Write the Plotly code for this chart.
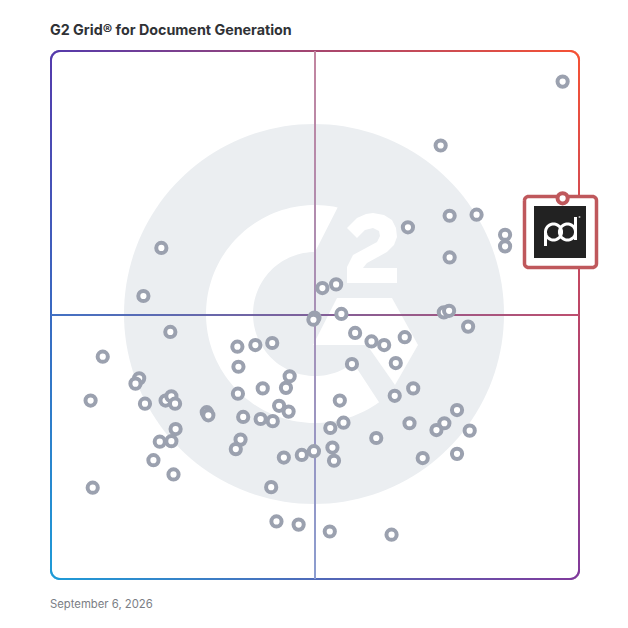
"""G2 Grid for Document Generation, drawn with Plotly."""

import math

import plotly.graph_objects as go

TITLE = "G2 Grid® for Document Generation"
DATE = "September 6, 2026"

# grid scores, 0-100 on both axes
presence = [
    96.8, 73.7, 75.4, 80.5, 67.5, 85.9, 85.9, 75.4, 20.8, 17.4, 51.3, 53.9,
    49.8, 49.6, 54.9, 74.3, 75.3, 78.9, 22.5, 57.5, 60.6, 63.0, 66.9, 35.2,
    38.6, 41.8, 35.4, 56.9, 65.2, 45.1, 44.4, 40.0, 35.3, 16.6, 15.9, 17.7,
    21.6, 22.7, 23.4, 29.4, 29.7, 43.1, 44.9, 36.3, 39.6, 41.9, 54.6, 65.0,
    68.5, 76.8, 74.4, 72.9, 79.2, 67.8, 55.3, 52.8, 61.5, 23.5, 22.7, 20.5,
    35.8, 34.9, 19.3, 23.1, 44.0, 47.4, 49.7, 53.2, 53.5, 70.3, 76.8, 41.6,
    7.8, 7.4, 9.7, 42.6, 46.8, 52.7, 64.4,
]
satisfaction = [
    94.3, 82.2, 68.9, 69.1, 66.7, 65.3, 63.1, 61.0, 62.8, 53.7, 55.2, 55.9,
    49.6, 49.2, 50.3, 50.6, 50.9, 47.9, 46.9, 46.7, 45.1, 44.4, 45.9, 44.1,
    44.4, 44.8, 40.3, 40.8, 41.0, 38.5, 36.3, 36.2, 35.2, 38.1, 37.1, 33.3,
    33.9, 34.7, 33.3, 31.7, 31.1, 32.9, 31.8, 30.8, 30.4, 30.0, 33.9, 34.8,
    36.2, 32.1, 29.6, 28.3, 28.2, 29.6, 29.7, 28.7, 26.8, 28.5, 26.2, 26.1,
    26.5, 24.7, 22.6, 19.9, 23.1, 23.6, 24.3, 25.0, 22.5, 23.0, 23.8, 17.5,
    17.4, 33.9, 42.2, 11.0, 10.4, 9.1, 8.5,
]
featured_presence = [96.8]
featured_satisfaction = [72.2]

GRID_LEFT, GRID_TOP, GRID_SIZE = 51, 51, 528
SIZE = 628
CORNERS = {
    "tl": (84, 58, 172),
    "tr": (246, 82, 52),
    "bl": (30, 155, 215),
    "br": (128, 58, 156),
}
WASH = "#ebeef1"
GREY = "#9ba1af"
RED = "#bf585c"


def to_x(px):
    return px / SIZE


def to_y(py):
    return 1 - py / SIZE


def grid_colour(u, v, wash=0.0):
    """Blend the four corner colours, u left to right and v top to bottom."""
    rgb = []
    for i in range(3):
        top = CORNERS["tl"][i] * (1 - u) + CORNERS["tr"][i] * u
        bottom = CORNERS["bl"][i] * (1 - u) + CORNERS["br"][i] * u
        value = top * (1 - v) + bottom * v
        rgb.append(round(value * (1 - wash) + 245 * wash))
    return f"rgb({rgb[0]},{rgb[1]},{rgb[2]})"


def poly(points, close=True):
    path = "M" + " L".join(f"{to_x(x):.5f},{to_y(y):.5f}" for x, y in points)
    return path + (" Z" if close else "")


def arc(cx, cy, r, start, end, steps=60):
    return [
        (
            cx + r * math.cos(math.radians(start + (end - start) * i / steps)),
            cy + r * math.sin(math.radians(start + (end - start) * i / steps)),
        )
        for i in range(steps + 1)
    ]


def rounded_rect(left, top, right, bottom, r):
    pts = arc(left + r, top + r, r, 180, 270, 8)
    pts += arc(right - r, top + r, r, 270, 360, 8)
    pts += arc(right - r, bottom - r, r, 0, 90, 8)
    pts += arc(left + r, bottom - r, r, 90, 180, 8)
    return pts


def segment(p, q, colour, width):
    # run a little past the end so neighbouring pieces leave no seam
    length = math.hypot(q[0] - p[0], q[1] - p[1]) or 1
    ex = (q[0] - p[0]) / length * 0.8
    ey = (q[1] - p[1]) / length * 0.8
    return dict(
        type="line", xref="paper", yref="paper",
        x0=to_x(p[0] - ex), y0=to_y(p[1] - ey), x1=to_x(q[0] + ex), y1=to_y(q[1] + ey),
        line=dict(color=colour, width=width), layer="below",
    )


def bar(left, top, right, bottom, colour):
    return dict(
        type="rect", xref="paper", yref="paper",
        x0=to_x(left), y0=to_y(top), x1=to_x(right), y1=to_y(bottom),
        fillcolor=colour, line=dict(width=0), layer="below",
    )


def filled(points, colour):
    return dict(
        type="path", xref="paper", yref="paper", path=poly(points),
        fillcolor=colour, line=dict(width=0), layer="below",
    )


def stroked(points, colour, width):
    return dict(
        type="path", xref="paper", yref="paper", path=poly(points, close=False),
        line=dict(color=colour, width=width), layer="below",
    )


def subdivide(points, step=6):
    out = []
    for (x0, y0), (x1, y1) in zip(points, points[1:] + points[:1]):
        n = max(1, int(math.hypot(x1 - x0, y1 - y0) // step))
        out += [(x0 + (x1 - x0) * i / n, y0 + (y1 - y0) * i / n) for i in range(n)]
    return out


shapes = []

# watermark: disc, C, the 2 and the chevron
CX, CY = 315, 314
shapes.append(filled(arc(314, 314, 190, 0, 360, 160), WASH))
c_outer = arc(CX, CY, 109, -78, -306, 100)
c_inner = arc(CX, CY, 62, -308, -90, 80)
shapes.append(filled(c_outer + c_inner, "white"))
two = [
    (347, 228), (357, 218), (366, 214), (373, 213), (384, 215), (392, 220),
    (396, 228), (397, 237), (394, 245), (387, 252), (367, 263), (363, 268),
    (397, 268), (397, 283), (347, 283), (347, 267), (353, 255), (377, 242),
    (380, 236), (379, 231), (373, 228), (365, 230), (357, 238),
]
shapes.append(filled(two, "white"))
chevron = [
    (337, 298), (392, 298), (418, 345), (395, 385), (367, 345), (313, 345),
]
shapes.append(filled(chevron, "white"))

# gradient frame, one short segment at a time
frame = subdivide(rounded_rect(GRID_LEFT, GRID_TOP, GRID_LEFT + GRID_SIZE,
                               GRID_TOP + GRID_SIZE, 9))
for p, q in zip(frame, frame[1:] + frame[:1]):
    u = ((p[0] + q[0]) / 2 - GRID_LEFT) / GRID_SIZE
    v = ((p[1] + q[1]) / 2 - GRID_TOP) / GRID_SIZE
    shapes.append(segment(p, q, grid_colour(u, v), 2))

# quadrant lines, butted on whole pixels so the blocks stay seamless
for i in range(66):
    a = GRID_LEFT + 8 * i
    b = a + 8
    t = (i + 0.5) / 66
    shapes.append(bar(a, 314, b, 316, grid_colour(t, 0.5, 0.05)))
    shapes.append(bar(314, a, 316, b, grid_colour(0.5, t, 0.36)))

# featured vendor tile
tile = rounded_rect(524.5, 196.5, 596.5, 267.5, 4)
shapes.append(filled(tile, "white"))
shapes.append(stroked(tile + tile[:2], RED, 3.5))
shapes.append(filled([(534, 206), (586, 206), (586, 258), (534, 258)], "#222222"))
pd_mark = [(545.5, 246)] + arc(553.5, 232, 8, 180, 360, 24)
pd_mark += arc(567.5, 232, 8, 180, -180, 48)
pd_mark += arc(553.5, 232, 8, 0, 180, 24)
shapes.append(stroked(pd_mark, "white", 3))
shapes.append(stroked([(575.5, 240), (575.5, 217)], "white", 3))
shapes.append(filled(arc(579.5, 217, 1, 0, 360, 12), "#bbbbbb"))

fig = go.Figure()
fig.add_trace(
    go.Scatter(
        x=presence,
        y=satisfaction,
        mode="markers",
        marker=dict(size=10.2, color="white", line=dict(color=GREY, width=4)),
        hoverinfo="skip",
    )
)
fig.add_trace(
    go.Scatter(
        x=featured_presence,
        y=featured_satisfaction,
        mode="markers",
        marker=dict(size=10.2, color="white", line=dict(color=RED, width=4)),
        hoverinfo="skip",
    )
)

fig.update_layout(
    width=SIZE,
    height=SIZE,
    margin=dict(l=0, r=0, t=0, b=0, autoexpand=False),
    xaxis=dict(range=[-0.1, 99.9], visible=False, fixedrange=True,
               domain=[GRID_LEFT / SIZE, (GRID_LEFT + GRID_SIZE) / SIZE]),
    yaxis=dict(range=[0.1, 100.1], visible=False, fixedrange=True,
               domain=[1 - (GRID_TOP + GRID_SIZE) / SIZE, 1 - GRID_TOP / SIZE]),
    plot_bgcolor="rgba(0,0,0,0)",
    paper_bgcolor="white",
    showlegend=False,
    shapes=shapes,
    annotations=[
        dict(
            text=f"<b>{TITLE}</b>", x=to_x(50), y=to_y(29), xref="paper", yref="paper",
            xanchor="left", yanchor="middle", showarrow=False, xshift=-2,
            font=dict(family="Inter", size=14.3, color="#303236"),
        ),
        dict(
            text=DATE, x=to_x(50), y=to_y(604), xref="paper", yref="paper",
            xanchor="left", yanchor="middle", showarrow=False, xshift=-2,
            font=dict(family="Inter", size=11.3, color="#7b7e85"),
        ),
    ],
)

fig.write_html("out.html", config=dict(displayModeBar=False),
               post_script="document.body.style.margin='0';")
